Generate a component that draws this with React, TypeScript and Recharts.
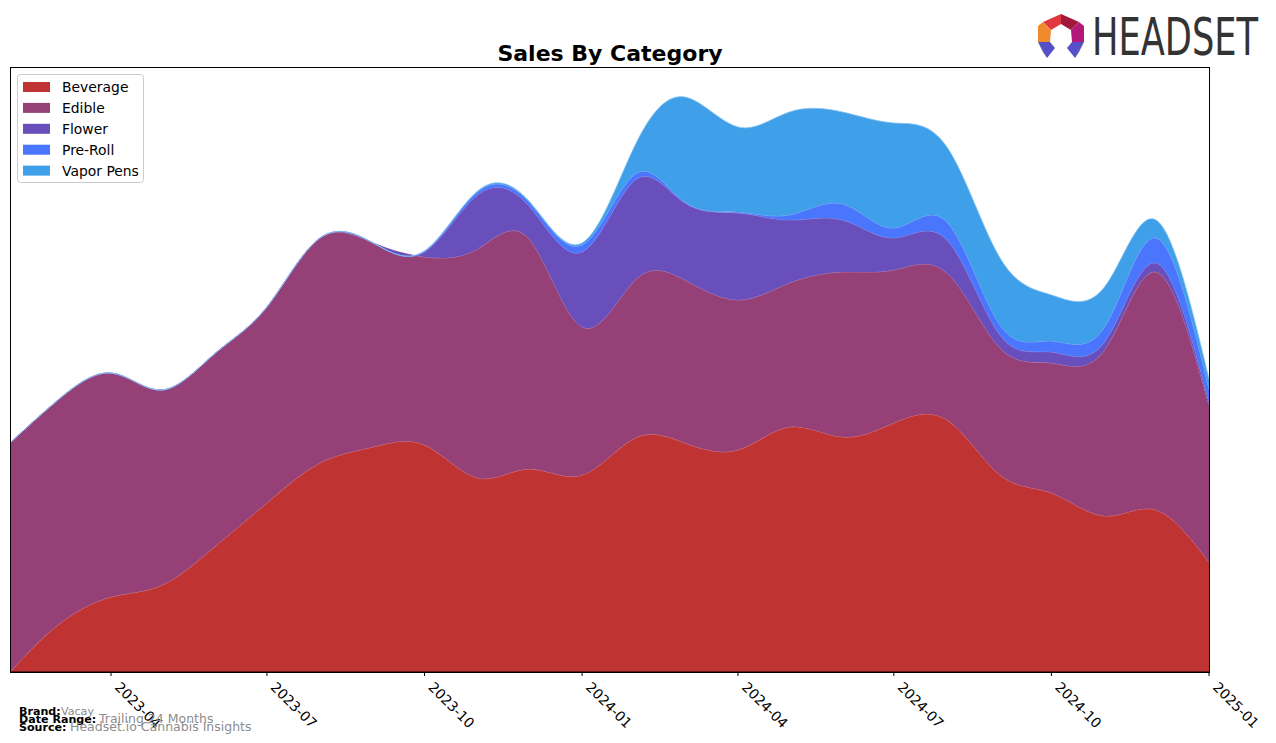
import React from 'react';
import { AreaChart, Area, XAxis, YAxis } from 'recharts';

const months = [
  '2023-02', '2023-03', '2023-04', '2023-05', '2023-06', '2023-07', '2023-08', '2023-09',
  '2023-10', '2023-11', '2023-12', '2024-01', '2024-02', '2024-03', '2024-04', '2024-05',
  '2024-06', '2024-07', '2024-08', '2024-09', '2024-10', '2024-11', '2024-12', '2025-01',
];

const beverage = [0, 47, 75, 87, 126, 169, 209, 225, 227, 194, 203, 197, 234, 229, 222, 245, 235, 249, 252, 197, 179, 156, 162, 110];
const edible = [229, 225, 224, 195, 193, 196, 225, 204, 188, 229, 230, 148, 158, 163, 150, 144, 165, 153, 147, 127, 130, 166, 238, 157];
const flower = [0, 0, 0, 0, 0, 0, 0, 0, 5, 54, 33, 75, 100, 77, 87, 63, 52, 32, 33, 13, 11, 8, 9, 3];
const preRoll = [0, 0, 0, 0, 0, 0, 0, 0, 1, 3, 4, 7, 6, 1, 1, 5, 16, 10, 18, 10, 11, 15, 25, 13];
const vaporPens = [0, 0, 0, 0, 0, 0, 0, 0, 0, 1, 1, 2, 29, 105, 85, 103, 92, 105, 75, 67, 46, 40, 18, 10];

const tickLabels = ['2023-04', '2023-07', '2023-10', '2024-01', '2024-04', '2024-07', '2024-10', '2025-01'];

const series = [
  { key: 'Beverage', color: '#c03333', line: '#d9777a' },
  { key: 'Edible', color: '#954178', line: '#b7779f' },
  { key: 'Flower', color: '#694fbc', line: '#9484d1' },
  { key: 'Pre-Roll', color: '#4a76fd', line: '#88a4fd' },
  { key: 'Vapor Pens', color: '#3f9fe8', line: '#7fbff0' },
];

const toTime = (ym: string) => {
  const [y, m] = ym.split('-').map(Number);
  return Date.UTC(y, m - 1, 1);
};

const fmt = (t: number) => {
  const d = new Date(t);
  return `${d.getUTCFullYear()}-${String(d.getUTCMonth() + 1).padStart(2, '0')}`;
};

const data = months.map((m, i) => ({
  t: toTime(m),
  Beverage: beverage[i],
  Edible: edible[i],
  Flower: flower[i],
  'Pre-Roll': preRoll[i],
  'Vapor Pens': vaporPens[i],
}));

const ticks = tickLabels.map(toTime);

const DateTick = (props: any) => {
  const { x, y, payload } = props;
  const ax = x + 10;
  const ay = y + 3;
  return (
    <text
      x={ax}
      y={ay}
      transform={`rotate(45 ${ax} ${ay})`}
      fontSize={13.9}
      fontFamily="DejaVu Sans"
      fill="#000"
      textAnchor="start"
      dy="0.72em"
    >
      {fmt(payload.value)}
    </text>
  );
};

const font = 'DejaVu Sans';

export default function App() {
  return (
    <div style={{ position: 'absolute', left: 0, top: 0, width: 1276, height: 743, background: '#fff' }}>
      <AreaChart
        width={1276}
        height={743}
        data={data}
        margin={{ top: 67, left: 10, right: 67, bottom: 41 }}
      >
        <XAxis
          dataKey="t"
          type="number"
          scale="linear"
          domain={[toTime('2023-02'), toTime('2025-01')]}
          ticks={ticks}
          tick={<DateTick />}
          tickSize={4}
          tickMargin={2}
          height={30}
          stroke="#000"
          allowDataOverflow
        />
        <YAxis hide domain={[0, 605]} allowDataOverflow />
        {series.map((s) => (
          <Area
            key={s.key}
            dataKey={s.key}
            stackId="1"
            type="natural"
            fill={s.color}
            fillOpacity={1}
            stroke={s.line}
            strokeWidth={0.8}
            isAnimationActive={false}
            dot={false}
            activeDot={false}
          />
        ))}
      </AreaChart>

      <svg
        width={1276}
        height={743}
        style={{ position: 'absolute', left: 0, top: 0, pointerEvents: 'none' }}
      >
        <rect x={10.5} y={67.5} width={1199} height={605} fill="none" stroke="#000" strokeWidth={1} />

        <text x={610} y={61} textAnchor="middle" fontFamily={font} fontWeight="bold" fontSize={22} fill="#000">
          Sales By Category
        </text>

        {/* legend */}
        <rect x={17.5} y={74.5} width={126} height={108} rx={3} fill="#fff" fillOpacity={0.8} stroke="#cccccc" />
        {series.map((s, i) => (
          <g key={s.key}>
            <rect x={23} y={82 + i * 20.9} width={27} height={10} fill={s.color} />
            <text x={62} y={92 + i * 20.9} fontFamily={font} fontSize={13.9} fill="#000">
              {s.key}
            </text>
          </g>
        ))}

        {/* footer */}
        <text x={19} y={715} fontFamily={font} fontSize={11.1} fontWeight="bold" fill="#000">Brand:</text>
        <text x={61} y={715} fontFamily={font} fontSize={11.1} fill="#8c8c8c">Vacay</text>
        <text x={19} y={723} fontFamily={font} fontSize={11.1} fontWeight="bold" fill="#000">Date Range:</text>
        <text x={99} y={723} fontFamily={font} fontSize={12.5} fill="#8c8c8c">Trailing 24 Months</text>
        <text x={19} y={731} fontFamily={font} fontSize={11.1} fontWeight="bold" fill="#000">Source:</text>
        <text x={70} y={731} fontFamily={font} fontSize={12.5} fill="#8c8c8c">Headset.io Cannabis Insights</text>

        {/* logo */}
        <polygon points="1043,22 1061,14 1061,24 1051,30" fill="#e0383f" />
        <polygon points="1061,14 1079,22 1071,30 1061,24" fill="#a3173a" />
        <polygon points="1038,26 1043,22 1051,30 1050,42 1038,42" fill="#f08a2c" />
        <polygon points="1079,22 1084,26 1084,42 1072,42 1071,30" fill="#b3187a" />
        <polygon points="1038,42 1050,42 1055,48 1047,58" fill="#5550c8" />
        <polygon points="1038,42 1047,58 1043,52" fill="#2b2a86" />
        <polygon points="1072,42 1084,42 1075,58 1067,48" fill="#5550c8" />
        <polygon points="1084,42 1079,52 1075,58" fill="#2b2a86" />
        <text
          x={1092}
          y={55}
          fontFamily="DejaVu Sans Condensed, DejaVu Sans"
          fontSize={51}
          fill="#333333"
          textLength={166}
          lengthAdjust="spacingAndGlyphs"
        >
          HEADSET
        </text>
      </svg>
    </div>
  );
}
